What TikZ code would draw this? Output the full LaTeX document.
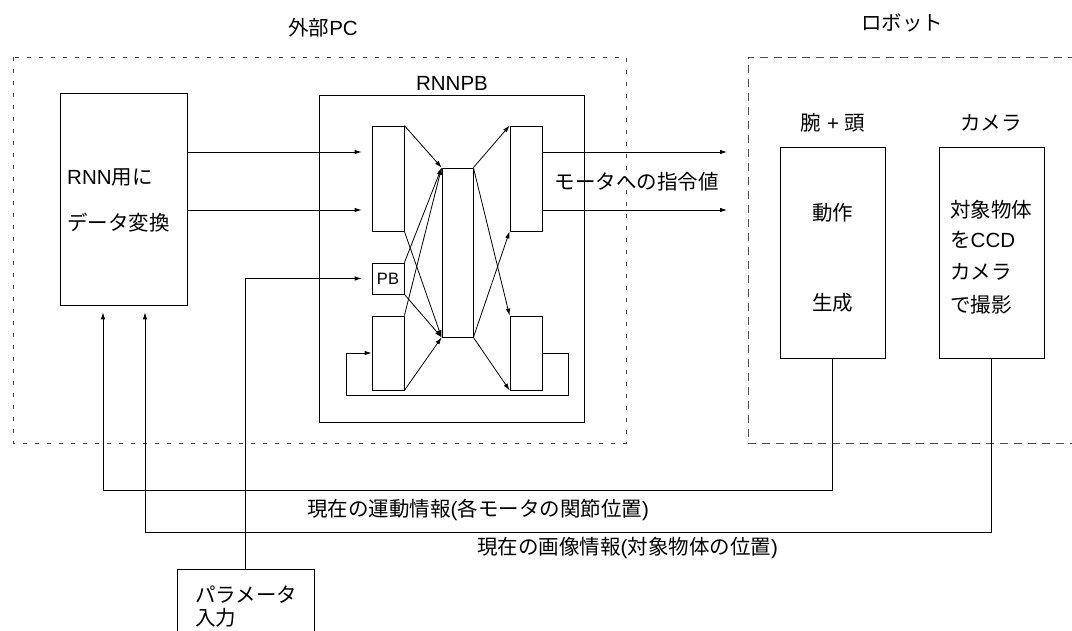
\documentclass[tikz,border=0pt]{standalone}
\usepackage{fontspec}
\setmainfont{Liberation Sans}
\newfontfamily\jp{Noto Sans CJK JP}
\usetikzlibrary{arrows.meta}
\newcommand\J[1]{{\jp #1}}
\newcommand\fsz{\fontsize{20.5}{24}\selectfont}
\begin{document}
\begin{tikzpicture}[x=1pt,y=-1pt,
  every node/.style={font=\fsz, inner sep=0pt},
  blk/.style={draw, line width=0.8pt, rectangle, inner sep=0pt},
  ln/.style={line width=0.8pt},
  arr/.style={line width=0.8pt, -{Latex[length=7pt,width=4.5pt]}},
  pcbox/.style={line width=0.7pt, dash pattern=on 4pt off 8pt, draw=black!75},
  robox/.style={line width=0.8pt, dash pattern=on 8pt off 6pt, draw=black!70},
  lbl/.style={anchor=center}]
\useasboundingbox (0,0) rectangle (1072,631);
% group frames
\draw[pcbox] (13,57) rectangle (626,443);
\draw[robox] (1090,57) -- (748,57) -- (748,443) -- (1090,443);
\node[lbl] (tpc) at (323,28) {\J{外部}PC};
\node[lbl] (trob) at (902,23) {\J{ロボット}};
% left box
\node[blk, minimum width=127pt, minimum height=212pt] (L) at (123.5,199) {};
\node[anchor=west] (L1) at (67,177) {RNN\J{用に}};
\node[anchor=west] (L2) at (67,223) {\J{データ変換}};
% RNNPB
\node[blk, minimum width=265pt, minimum height=327pt] (R) at (451.5,258.5) {};
\node[lbl] (tR) at (452,83) {RNNPB};
\node[blk, minimum width=32pt, minimum height=105pt] (in1) at (388,178.5) {};
\node[blk, minimum width=32pt, minimum height=31pt] (pb) at (388,278.5) {\fontsize{16.5}{19}\selectfont PB};
\node[blk, minimum width=32pt, minimum height=74pt] (cin) at (388,353) {};
\node[blk, minimum width=31pt, minimum height=169pt] (hid) at (457.5,252.5) {};
\node[blk, minimum width=32pt, minimum height=105pt] (out1) at (526,178.5) {};
\node[blk, minimum width=32pt, minimum height=74pt] (cout) at (526,353) {};
% internal connections
\draw[arr] (in1.north east) -- (hid.north west);
\draw[arr] (in1.south east) -- (hid.south west);
\draw[arr] (pb.north east) -- (hid.north west);
\draw[arr] (pb.south east) -- (hid.south west);
\draw[arr] (cin.north east) -- (hid.north west);
\draw[arr] (cin.south east) -- (hid.south west);
\draw[arr] (hid.north east) -- (out1.north west);
\draw[arr] (hid.south east) -- (out1.south west);
\draw[arr] (hid.north east) -- (cout.north west);
\draw[arr] (hid.south east) -- (cout.south west);
% context loop
\coordinate (lp1) at (568,395);
\coordinate (lp2) at (346,353);
\draw[arr] (cout.east) -| (lp1) -| (lp2) -- (cin.west);
% left box to input
\coordinate (a1) at (0,152);
\coordinate (a2) at (0,210);
\draw[arr, shorten >=10pt] (L.east |- a1) -- (in1.west |- a1);
\draw[arr, shorten >=10pt] (L.east |- a2) -- (in1.west |- a2);
% outputs
\coordinate (o1) at (727,152);
\coordinate (o2) at (727,210);
\draw[arr] (out1.east |- o1) -- (o1);
\draw[arr] (out1.east |- o2) -- (o2);
\node[lbl] (tmot) at (636.5,182) {\J{モータへの指令値}};
% robot boxes
\node[blk, minimum width=105pt, minimum height=211pt] (arm) at (832.5,252.5) {};
\node[blk, minimum width=105pt, minimum height=211pt] (cam) at (991.5,252.5) {};
\node[lbl] (tarm) at (833,123) {\J{腕} + \J{頭}};
\node[lbl] (tcam) at (991,123) {\J{カメラ}};
\node[lbl] (arm1) at (832.5,213) {\J{動作}};
\node[lbl] (arm2) at (832.5,303) {\J{生成}};
\node[anchor=west] (c1) at (950,210) {\J{対象物体}};
\node[anchor=west] (c2) at (950,240) {\J{を}CCD};
\node[anchor=west] (c3) at (950,272) {\J{カメラ}};
\node[anchor=west] (c4) at (950,305) {\J{で撮影}};
% parameter input
\node[blk, minimum width=137pt, minimum height=90pt] (par) at (245.5,614) {};
\node[anchor=west] (p1) at (195,595) {\J{パラメータ}};
\node[anchor=west] (p2) at (195,618) {\J{入力}};
\draw[arr, shorten >=10pt] (par.north) |- (pb.west);
% feedback
\coordinate (f1) at (103,490);
\coordinate (f2) at (145,532);
\draw[arr, shorten >=7pt] (arm.south) |- (f1) -- (L.south -| f1);
\draw[arr, shorten >=7pt] (cam.south) |- (f2) -- (L.south -| f2);
\node[lbl] (tf1) at (478,510) {\J{現在の運動情報}(\J{各モータの関節位置})};
\node[lbl] (tf2) at (627.5,548) {\J{現在の画像情報}(\J{対象物体の位置})};
\end{tikzpicture}
\end{document}
